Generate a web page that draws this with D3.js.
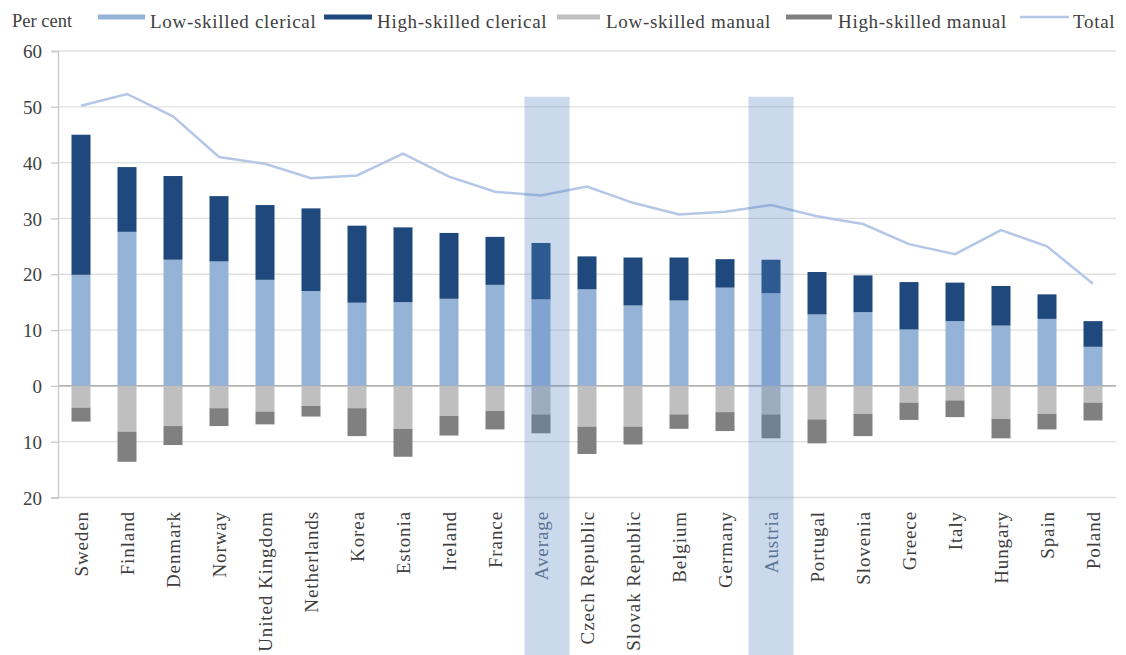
<!DOCTYPE html>
<html><head><meta charset="utf-8">
<script src="https://cdn.jsdelivr.net/npm/d3@7"></script>
<style>
html,body{margin:0;padding:0;background:#fff;}
svg{display:block;}
svg text{font-family:"Liberation Serif","DejaVu Serif",serif;}
</style></head>
<body><svg id="chart" width="1126" height="655"></svg>
<script>
const categories = ["Sweden","Finland","Denmark","Norway","United Kingdom","Netherlands","Korea","Estonia","Ireland","France","Average","Czech Republic","Slovak Republic","Belgium","Germany","Austria","Portugal","Slovenia","Greece","Italy","Hungary","Spain","Poland"];
// clerical shares (positive), manual shares (plotted below zero)
const lowClerical  = [19.9,27.6,22.6,22.3,19.0,17.0,14.9,15.0,15.6,18.1,15.5,17.3,14.4,15.3,17.6,16.6,12.8,13.2,10.1,11.6,10.8,12.0,7.0];
const highClerical = [25.1,11.6,15.0,11.7,13.4,14.8,13.8,13.4,11.8,8.6,10.1,5.9,8.6,7.7,5.1,6.0,7.6,6.6,8.5,6.9,7.1,4.4,4.6];
const lowManual    = [3.9,8.2,7.2,4.0,4.6,3.6,4.0,7.7,5.4,4.5,5.1,7.3,7.3,5.1,4.7,5.1,6.0,5.0,3.0,2.6,5.9,5.0,3.0];
const highManual   = [2.5,5.4,3.4,3.2,2.3,1.9,5.0,5.0,3.5,3.3,3.4,4.9,3.2,2.6,3.4,4.3,4.3,4.0,3.1,3.0,3.5,2.8,3.2];
const total        = [50.2,52.3,48.3,41.0,39.8,37.2,37.7,41.6,37.5,34.8,34.1,35.7,32.8,30.7,31.2,32.4,30.4,29.0,25.4,23.6,27.9,25.0,18.3];
const highlighted  = ["Average","Austria"];
const yTicks = [60,50,40,30,20,10,0,-10,-20];
const seriesNames = ["Low-skilled clerical","High-skilled clerical","Low-skilled manual","High-skilled manual","Total"];
const colors = ["#95b3d7","#1f497d","#bfbfbf","#808080","#b4c7e7"];

(function(){
const FONT = "'Liberation Serif', 'DejaVu Serif', serif";
const svg = d3.select("#chart");
const pLeft = 58, pRight = 1116, pTop = 51, pBottom = 497.5;
const x = d3.scaleBand().domain(categories).range([pLeft, pRight]).paddingInner(0.6).paddingOuter(0.3);
const xc = d => x(d) + x.bandwidth()/2;
const y = d3.scaleLinear().domain([-20, 60]).range([pBottom, pTop]);

// gridlines
svg.append("g").selectAll("line").data(yTicks).join("line")
  .attr("x1", pLeft).attr("x2", pRight)
  .attr("y1", d => y(d)).attr("y2", d => y(d))
  .attr("stroke", d => d === 0 ? "#b3b3b3" : "#e0e0e0").attr("stroke-width", d => d===0?1.6:1.3);

// y axis
const yAxis = d3.axisLeft(y).tickValues(yTicks).tickSize(7).tickPadding(9).tickFormat(d => Math.abs(d));
const gy = svg.append("g").attr("transform", `translate(${pLeft},0)`).call(yAxis);
gy.attr("font-family", FONT).attr("font-size", 19);
gy.select(".domain").attr("stroke", "#c8c8c8").attr("stroke-width",1.3);
gy.selectAll(".tick line").attr("stroke", "#c8c8c8").attr("stroke-width",1.3);
gy.selectAll(".tick text").attr("fill", "#404040")
  .attr("font-family", FONT).style("font-family", FONT).style("font-size", "19px").attr("dy", "0.35em");

// bars
const barW = 19;
const rows = categories.map((c,i) => ({c, lc: lowClerical[i], hc: highClerical[i], lm: lowManual[i], hm: highManual[i]}));
const g = svg.append("g");
const seg = (cls, y0f, y1f, col) => g.selectAll("rect."+cls).data(rows).join("rect").attr("class", cls)
  .attr("x", d => xc(d.c) - barW/2).attr("width", barW)
  .attr("y", d => y(Math.max(y0f(d), y1f(d)))).attr("height", d => Math.abs(y(y0f(d)) - y(y1f(d))))
  .attr("fill", col);
seg("lc", d => 0, d => d.lc, colors[0]);
seg("hc", d => d.lc, d => d.lc + d.hc, colors[1]);
seg("lm", d => 0, d => -d.lm, colors[2]);
seg("hm", d => -d.lm, d => -d.lm - d.hm, colors[3]);

// total line
svg.append("path").datum(total)
  .attr("d", d3.line().x((d,i) => xc(categories[i])).y(d => y(d)))
  .attr("fill", "none").attr("stroke", colors[4]).attr("stroke-width", 2.5);

// x labels
svg.append("g").selectAll("text").data(categories).join("text")
  .attr("transform", d => `translate(${xc(d)+6.5},511) rotate(-90)`)
  .attr("text-anchor", "end")
  .attr("fill", d => highlighted.includes(d) ? "#5f6f86" : "#404040")
  .style("font-size", "19px").style("letter-spacing", "0.9px")
  .text(d => d);

// highlight bands
svg.append("g").selectAll("rect").data(highlighted).join("rect")
  .attr("x", (d,i) => xc(d) - 22.5 + (i === 0 ? 6 : 0)).attr("width", 45)
  .attr("y", y(51.8)).attr("height", 655 - y(51.8))
  .attr("fill", "#4f81bd").attr("opacity", 0.3);

// legend
svg.append("text").attr("x", 12).attr("y", 27).attr("fill", "#404040").style("font-size","18.5px").text("Per cent");
const legItems = [
  {sx:98, sw:47, tx:150, h:5},
  {sx:324, sw:48, tx:377, h:5},
  {sx:557, sw:43, tx:606, h:5},
  {sx:786, sw:46, tx:838, h:5},
  {sx:1020, sw:49, tx:1073, h:2.5}
];
const lg = svg.append("g");
lg.selectAll("rect").data(legItems).join("rect")
  .attr("x", d => d.sx).attr("width", d => d.sw)
  .attr("y", d => 17 - d.h/2).attr("height", d => d.h)
  .attr("fill", (d,i) => colors[i]);
lg.selectAll("text").data(legItems).join("text")
  .attr("x", d => d.tx).attr("y", 28).attr("fill", "#404040").style("font-size","19px").style("letter-spacing","0.7px")
  .text((d,i) => seriesNames[i]);
})();
</script></body></html>
